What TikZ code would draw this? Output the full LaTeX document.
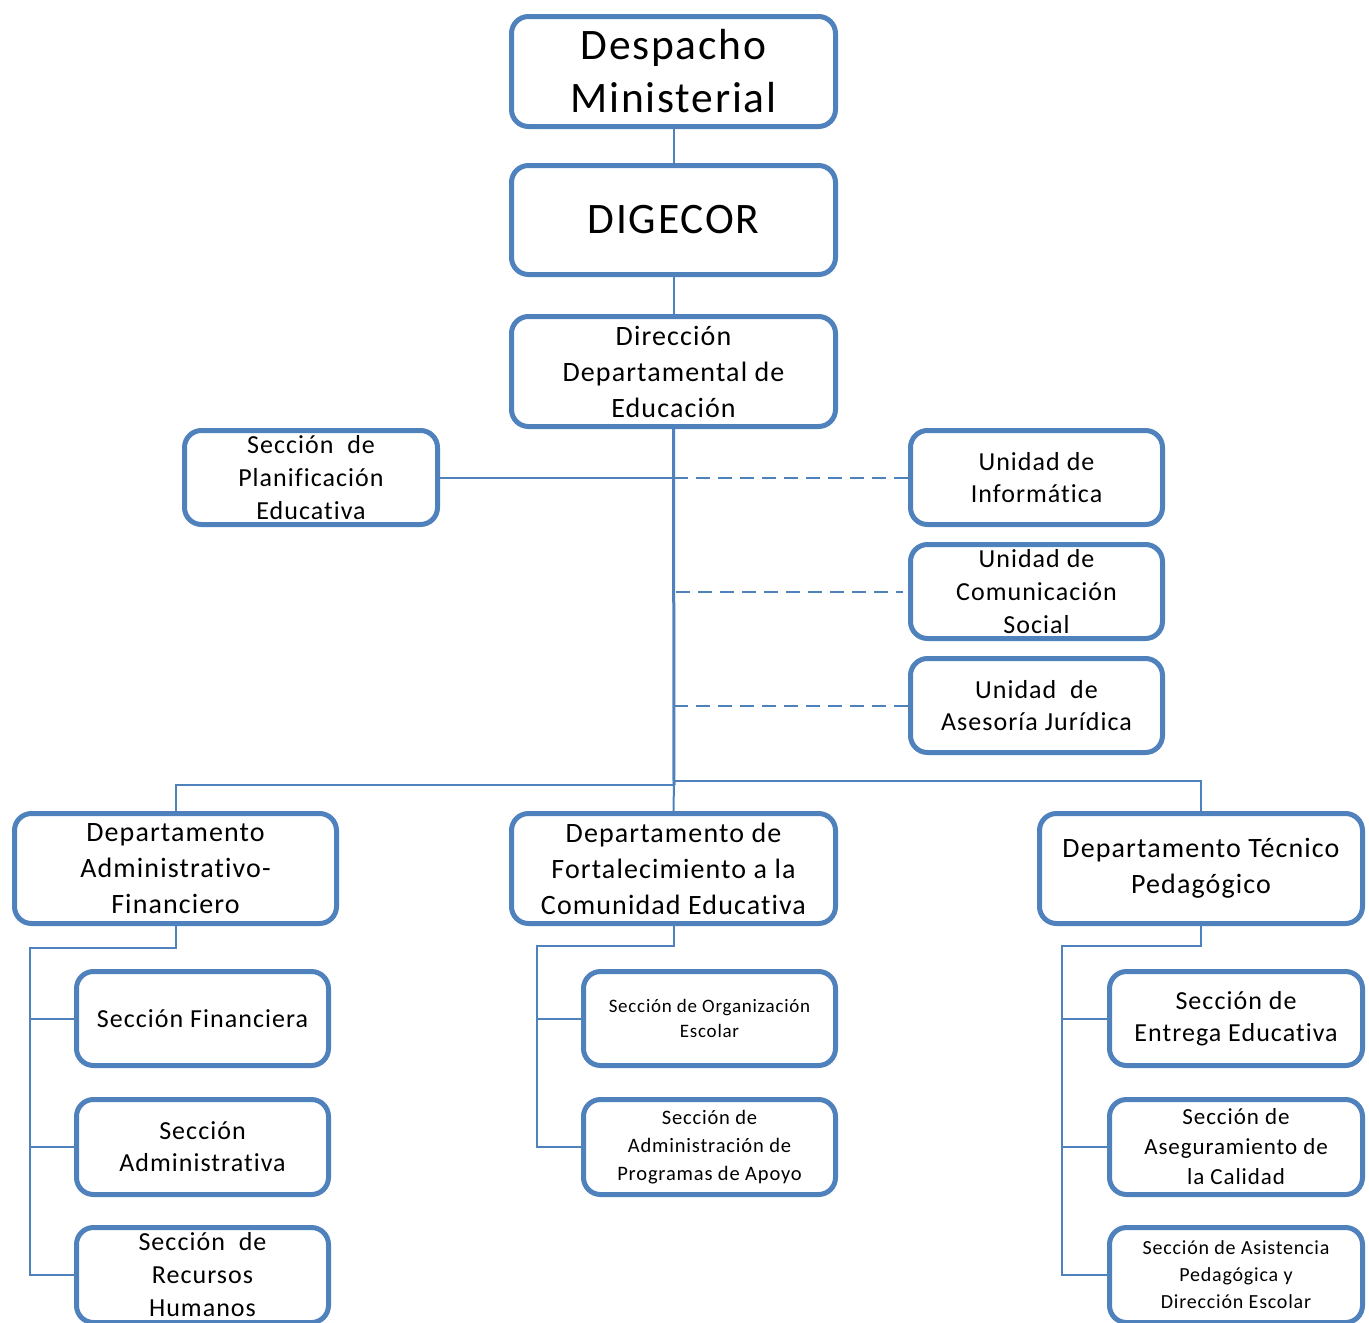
\documentclass[tikz,border=0pt]{standalone}
\usepackage{fontspec}
\setmainfont[LetterSpace=4,Ligatures=NoCommon]{Carlito}
\definecolor{obl}{HTML}{4F81BD}
\newcommand{\fsz}[2]{\fontsize{#1}{#2}\selectfont}
\tikzset{
  orgbox/.style={draw=obl, line width=5pt, rounded corners=17pt, fill=white,
    inner sep=0pt, align=center, text=black},
  wA/.style={orgbox, minimum width=324pt, minimum height=110pt},
  wB/.style={orgbox, minimum width=252pt, minimum height=94pt},
  wC/.style={orgbox, minimum width=252pt, minimum height=95pt},
  conn/.style={draw=obl, line width=2pt},
  trunk/.style={draw=obl, line width=3pt},
  dconn/.style={draw=obl, line width=2pt, dash pattern=on 14pt off 8pt}
}
\begin{document}
\begin{tikzpicture}[x=1pt, y=-1pt]
\useasboundingbox (0,0) rectangle (1369,1323);
% top chain
\node[wA, font=\fsz{43.5}{53}] (desp) at (673.5,71.5) {Despacho\\Ministerial};
\node[wA, minimum height=109pt, font=\fsz{43.5}{53}] (dig) at (673.5,220) {DIGECOR};
\node[wA, font=\fsz{28}{36}] (dir) at (673.5,371.5) {Dirección\\Departamental de\\Educación};
% side units
\node[wB, minimum width=253pt, font=\fsz{26}{33}] (plan) at (311,477.5) {Sección\ \ de\\Planificación\\Educativa};
\node[wB, font=\fsz{26}{32}] (inf) at (1036.5,477.5) {Unidad de\\Informática};
\node[wB, font=\fsz{26}{33}] (com) at (1036.5,591.5) {Unidad de\\Comunicación\\Social};
\node[wB, font=\fsz{26}{32}] (ase) at (1036.5,705.5) {Unidad\ \ de\\Asesoría Jurídica};
% departments
\node[wA, minimum width=322pt, font=\fsz{28}{36}] (daf) at (175.5,868.5) {Departamento\\Administrativo-\\Financiero};
\node[wA, font=\fsz{28}{36}] (dfc) at (673.5,868.5) {Departamento de\\Fortalecimiento a la\\Comunidad Educativa};
\node[wA, minimum width=323pt, font=\fsz{28}{36}] (dtp) at (1201,868.5) {Departamento Técnico\\Pedagógico};
% sections left
\node[wB, font=\fsz{26}{32}] (sf) at (202.5,1018.5) {Sección Financiera};
\node[wC, font=\fsz{26}{32}] (sa) at (202.5,1147) {Sección\\Administrativa};
\node[wC, font=\fsz{26}{33}] (srh) at (202.5,1275) {Sección\ \ de\\Recursos\\Humanos};
% sections middle
\node[wB, font=\fsz{19}{25}] (soe) at (709.5,1018.5) {Sección de Organización\\Escolar};
\node[wC, font=\fsz{20.5}{28}] (sap) at (709.5,1147) {Sección de\\Administración de\\Programas de Apoyo};
% sections right
\node[wB, minimum width=253pt, font=\fsz{26}{32}] (see) at (1236,1018.5) {Sección de\\Entrega Educativa};
\node[wC, minimum width=253pt, font=\fsz{23}{30}] (sac) at (1236,1147) {Sección de\\Aseguramiento de\\la Calidad};
\node[wC, minimum width=253pt, font=\fsz{20}{27}] (sas) at (1236,1275) {Sección de Asistencia\\Pedagógica y\\Dirección Escolar};
% junction coordinates
\coordinate (jL) at (674,785);
\coordinate (jR) at (674,781);
\coordinate (bA) at (30,948);
\coordinate (bF) at (537,946);
\coordinate (bT) at (1062,946);
% connectors
\draw[conn] (desp.south) -- (dig.north);
\draw[conn] (dig.south) -- (dir.north);
\draw[trunk] (dir.south) -- (jL);
\draw[conn] (plan.east) -- (plan.east -| jL);
\draw[dconn] (inf.west -| jL) -- (inf.west);
\draw[dconn] ([xshift=2pt]com.west -| jL) -- ([xshift=-5pt]com.west);
\draw[dconn] (ase.west -| jL) -- (ase.west);
\draw[conn] (daf.north) |- (jL);
\draw[conn] (dtp.north) |- (jR);
\draw[conn] (jR) -- (dfc.north);
% branch left
\draw[conn] (daf.south) |- (bA) |- (srh.west);
\draw[conn] (bA |- sf.west) -- (sf.west);
\draw[conn] (bA |- sa.west) -- (sa.west);
% branch middle
\draw[conn] (dfc.south) |- (bF) |- (sap.west);
\draw[conn] (bF |- soe.west) -- (soe.west);
% branch right
\draw[conn] (dtp.south) |- (bT) |- (sas.west);
\draw[conn] (bT |- see.west) -- (see.west);
\draw[conn] (bT |- sac.west) -- (sac.west);
\end{tikzpicture}
\end{document}
